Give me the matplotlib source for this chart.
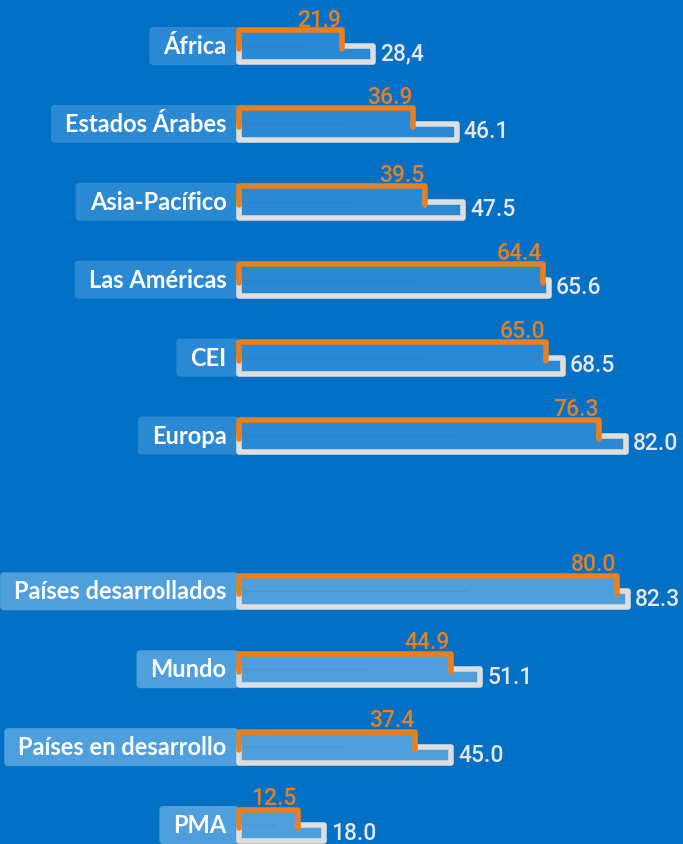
import matplotlib
matplotlib.use('Agg')
import matplotlib.pyplot as plt
from matplotlib.patches import FancyBboxPatch

# ---------------- data ----------------
regions = ["África", "Estados Árabes", "Asia-Pacífico", "Las Américas", "CEI", "Europa"]
regions_orange = [21.9, 36.9, 39.5, 64.4, 65.0, 76.3]
regions_gray = [28.4, 46.1, 47.5, 65.6, 68.5, 82.0]
regions_orange_txt = ["21,9", "36.9", "39.5", "64.4", "65.0", "76.3"]
regions_gray_txt = ["28,4", "46.1", "47.5", "65.6", "68.5", "82.0"]

devlevels = ["Países desarrollados", "Mundo", "Países en desarrollo", "PMA"]
dev_orange = [80.0, 44.9, 37.4, 12.5]
dev_gray = [82.3, 51.1, 45.0, 18.0]
dev_orange_txt = ["80.0", "44.9", "37.4", "12.5"]
dev_gray_txt = ["82.3", "51.1", "45.0", "18.0"]

# ---------------- style ----------------
W, H, DPI = 683, 844, 100
BG = '#0070C4'
FILL1 = '#2B88D3'
FILL2 = '#4E9FDB'
ORANGE = '#E8801F'
GRAY = '#DEDEDE'
GRAYTXT = '#E6E6E6'
LW = 4.0
LABEL_FONT = ['Lato', 'DejaVu Sans']
VALUE_FONT = ['Roboto', 'DejaVu Sans']

fig = plt.figure(figsize=(W / DPI, H / DPI), dpi=DPI)
fig.patch.set_facecolor(BG)
ax = fig.add_axes([0, 0, 1, 1])
ax.set_facecolor(BG)
ax.axis('off')

X0, PXU, Y0, ROW = 238.5, 4.73, 46.0, 77.9
ax.set_xlim(-X0 / PXU, (W - X0) / PXU)
ax.set_ylim((H - Y0) / ROW, -Y0 / ROW)


def px(p):
    return p / PXU


def py(p):
    return p / ROW


groups = [
    (regions, regions_orange, regions_gray, regions_orange_txt, regions_gray_txt, FILL1, 0),
    (devlevels, dev_orange, dev_gray, dev_orange_txt, dev_gray_txt, FILL2, len(regions) + 1),
]

label_items = []
for names, ov, gv, otx, gtx, fill, start in groups:
    for k, name in enumerate(names):
        y = start + k
        o, g = ov[k], gv[k]
        otop = y + py(-15.5)
        gtop = y + py(0)
        gbot = y + py(16)
        ovb = y + py(3)
        # fills
        ax.barh((gtop + gbot) / 2, g, height=gbot - gtop, left=0, color=fill, zorder=2)
        ax.barh((otop + gbot) / 2, o, height=gbot - otop, left=0, color=fill, zorder=2)
        ax.plot([0, o * 0.6], [gtop, gtop], color='#1B6FB8', lw=1, alpha=0.15, zorder=2.5)
        # gray outline
        ax.plot([o, g, g, 0, 0], [gtop, gtop, gbot, gbot, gtop], color=GRAY, lw=LW,
                solid_joinstyle='round', solid_capstyle='round', zorder=3)
        # orange bracket
        ax.plot([0, 0, o, o], [ovb, otop, otop, ovb], color=ORANGE, lw=LW,
                solid_joinstyle='round', solid_capstyle='round', zorder=4)
        # value texts
        ax.text(o - px(1.0), otop + py(-4.5), otx[k], color=ORANGE, fontsize=16.5,
                family=VALUE_FONT, fontweight='medium', ha='right', va='baseline', zorder=5)
        ax.text(g + px(7), y + py(14.5), gtx[k], color=GRAYTXT, fontsize=16.5,
                family=VALUE_FONT, fontweight='medium', ha='left', va='baseline', zorder=5)
        # category label
        t = ax.text(px(-12), y + py(8), name, color='white', fontsize=17,
                    fontweight='bold', family=LABEL_FONT, ha='right', va='baseline', zorder=5)
        label_items.append((t, y, fill))

fig.canvas.draw()
renderer = fig.canvas.get_renderer()
inv = ax.transData.inverted()
for t, y, fill in label_items:
    bb = t.get_window_extent(renderer)
    left = inv.transform((bb.x0, 0))[0] - px(14)
    box = FancyBboxPatch((left, y - py(19)), 0 - left, py(38),
                         boxstyle='round,pad=0,rounding_size=%f' % px(4),
                         mutation_aspect=PXU / ROW, fc=fill, ec='none', zorder=1)
    ax.add_patch(box)

fig.savefig('out.png', dpi=DPI, facecolor=BG)
